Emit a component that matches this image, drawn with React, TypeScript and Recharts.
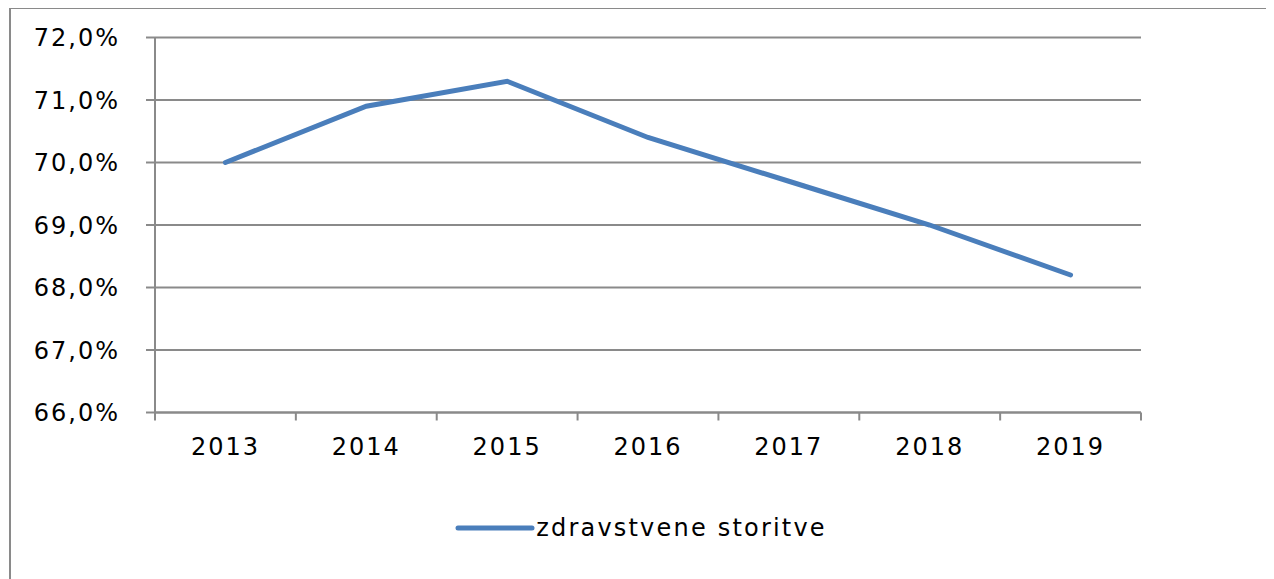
import { LineChart, Line, XAxis, YAxis, CartesianGrid, Legend } from 'recharts';

// values (percent)
const years = ['2013', '2014', '2015', '2016', '2017', '2018', '2019'];
const zdravstvene = [70.0, 70.9, 71.3, 70.4, 69.7, 69.0, 68.2];
const yTicks = [66, 67, 68, 69, 70, 71, 72];
const seriesName = 'zdravstvene storitve';

const data = years.map((year, i) => ({ year, value: zdravstvene[i] }));

const BLUE = '#4a7ebb';
const GRID = '#8a8a8a';
const FONT = '"DejaVu Sans", Verdana, sans-serif';

const CHART_W = 1266;
const CHART_H = 571;
const MARGIN = { top: 29.5, right: 133, bottom: 36, left: 0 };
const Y_AXIS_W = 147;
const PLOT_W = CHART_W - MARGIN.left - MARGIN.right - Y_AXIS_W;
const X_TICK_SIZE = 8;
const X_TICK_MARGIN = 17.5;

const fmtPct = (v: number) => `${v.toFixed(1).replace('.', ',')}%`;

// Excel style: tick marks sit between categories, labels in the middle
function XTick(props: any) {
    const { x, y, payload, index } = props;
    const band = PLOT_W / years.length;
    const axisY = y - X_TICK_SIZE - X_TICK_MARGIN;
    return (
        <g>
            <line
                x1={x - band / 2}
                x2={x - band / 2}
                y1={axisY}
                y2={axisY + X_TICK_SIZE}
                stroke={GRID}
                strokeWidth={2}
            />
            {index === years.length - 1 && (
                <line
                    x1={x + band / 2}
                    x2={x + band / 2}
                    y1={axisY}
                    y2={axisY + X_TICK_SIZE}
                    stroke={GRID}
                    strokeWidth={2}
                />
            )}
            <text
                x={x}
                y={y}
                dy="0.71em"
                textAnchor="middle"
                fill="#000"
                style={{ fontFamily: FONT, fontSize: 24, letterSpacing: 2 }}
            >
                {payload.value}
            </text>
        </g>
    );
}

function LegendContent() {
    return (
        <div
            style={{
                display: 'flex',
                alignItems: 'center',
                justifyContent: 'center',
                height: 30,
                fontFamily: FONT,
                fontSize: 24,
                letterSpacing: 2.2,
                color: '#000',
            }}
        >
            <svg width={80} height={10} style={{ display: 'block' }}>
                <line x1={3} x2={77} y1={5} y2={5} stroke={BLUE} strokeWidth={5} strokeLinecap="round" />
            </svg>
            <span style={{ marginLeft: 1 }}>{seriesName}</span>
        </div>
    );
}

export default function App() {
    return (
        <div style={{ position: 'relative', width: CHART_W, height: CHART_H, background: '#fff' }}>
            {/* outer chart frame, right and bottom edges fall outside the picture */}
            <div
                style={{
                    position: 'absolute',
                    left: 1,
                    top: -1,
                    width: CHART_W + 20,
                    height: CHART_H + 20,
                    borderLeft: `2px solid ${GRID}`,
                    borderTop: `2px solid ${GRID}`,
                    boxSizing: 'border-box',
                }}
            />
            <div style={{ position: 'absolute', left: 0, top: 0 }}>
                <LineChart width={CHART_W} height={CHART_H} data={data} margin={MARGIN}>
                    <CartesianGrid vertical={false} stroke={GRID} strokeWidth={2} />
                    <XAxis
                        dataKey="year"
                        scale="band"
                        height={100.5}
                        stroke={GRID}
                        strokeWidth={2}
                        tickLine={false}
                        tickSize={X_TICK_SIZE}
                        tickMargin={X_TICK_MARGIN}
                        interval={0}
                        tick={<XTick />}
                    />
                    <YAxis
                        width={Y_AXIS_W}
                        domain={[66, 72]}
                        ticks={yTicks}
                        interval={0}
                        tickFormatter={fmtPct}
                        stroke={GRID}
                        strokeWidth={2}
                        tickSize={9}
                        tickMargin={26}
                        tick={{ fill: '#000', fontSize: 24, fontFamily: FONT, letterSpacing: 2 }}
                    />
                    <Legend
                        verticalAlign="bottom"
                        content={<LegendContent />}
                        wrapperStyle={{ left: 0, width: CHART_W }}
                    />
                    <Line
                        type="linear"
                        dataKey="value"
                        name={seriesName}
                        stroke={BLUE}
                        strokeWidth={5}
                        strokeLinecap="round"
                        dot={false}
                        activeDot={false}
                        isAnimationActive={false}
                    />
                </LineChart>
            </div>
        </div>
    );
}
